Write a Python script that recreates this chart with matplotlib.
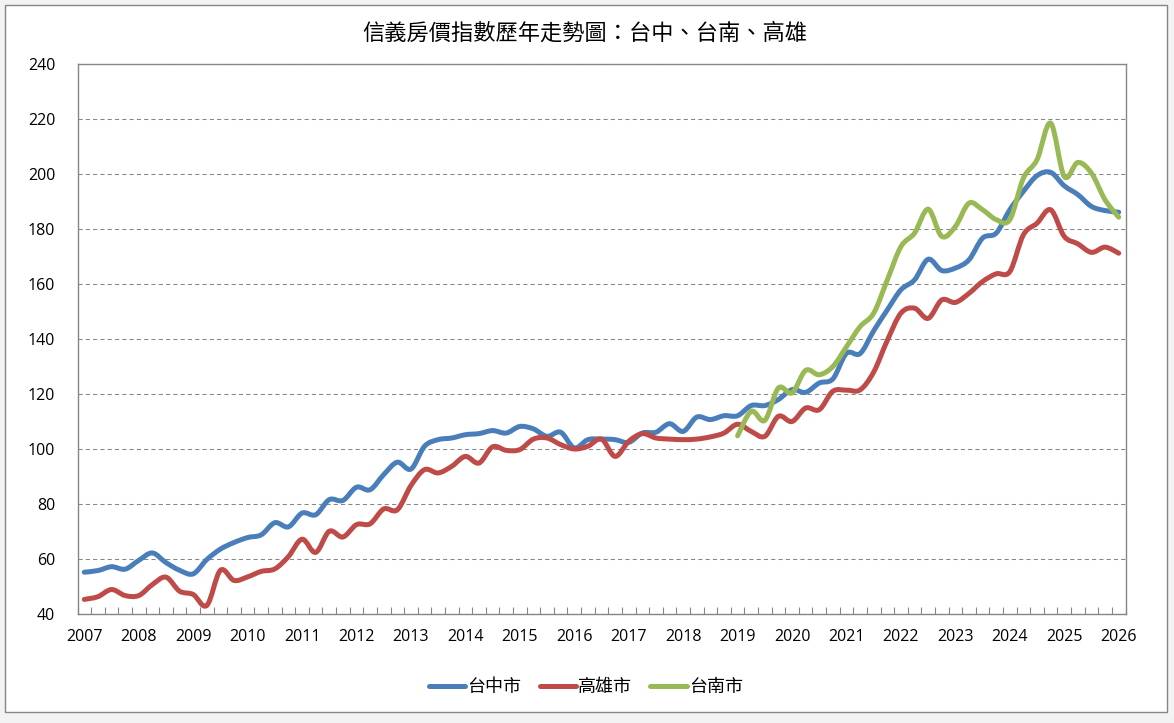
import numpy as np
import matplotlib
matplotlib.use("Agg")
import matplotlib.pyplot as plt
from matplotlib.path import Path
from matplotlib.patches import PathPatch, Rectangle
from matplotlib.lines import Line2D

plt.rcParams['font.family'] = ['Open Sans', 'Noto Sans CJK TC', 'DejaVu Sans']

# quarterly index, 2007Q1 .. 2026Q1
year_labels = ['2007', '2008', '2009', '2010', '2011', '2012', '2013', '2014', '2015', '2016',
               '2017', '2018', '2019', '2020', '2021', '2022', '2023', '2024', '2025', '2026']

taichung = [55.2, 55.8, 57.2, 56.3, 59.5, 62.2, 58.7, 55.9, 54.6, 59.8,
            63.6, 66.0, 67.8, 68.8, 73.2, 71.7, 76.7, 76.1, 81.6, 81.3,
            86.1, 85.2, 90.7, 95.2, 92.7, 101.0, 103.4, 104.0, 105.2, 105.6,
            106.7, 105.8, 108.2, 107.3, 104.6, 106.1, 100.4, 103.4, 103.6, 103.4,
            102.4, 105.8, 106.1, 109.2, 106.4, 111.6, 110.7, 112.1, 112.1, 115.8,
            115.8, 118.0, 121.6, 120.6, 124.0, 125.5, 134.8, 134.7, 143.0, 150.6,
            157.9, 161.5, 169.0, 164.9, 165.8, 168.8, 176.7, 178.5, 187.0, 193.7,
            199.4, 200.6, 195.7, 192.5, 188.2, 186.7, 186.1]

kaohsiung = [45.3, 46.3, 48.9, 46.7, 46.7, 50.7, 53.4, 48.3, 47.1, 43.1,
             55.9, 52.2, 53.5, 55.5, 56.4, 60.9, 67.2, 62.4, 70.1, 68.0,
             72.5, 72.8, 78.2, 77.9, 86.7, 92.5, 91.3, 93.7, 97.3, 94.9,
             100.8, 99.5, 99.8, 103.6, 104.0, 101.6, 100.0, 101.0, 103.6, 97.3,
             102.8, 105.6, 104.0, 103.6, 103.4, 103.6, 104.4, 105.8, 109.0, 106.4,
             104.6, 111.9, 110.0, 114.9, 114.3, 121.0, 121.4, 121.5, 128.0, 139.5,
             149.4, 151.2, 147.5, 154.2, 153.3, 156.6, 160.9, 163.7, 164.5, 177.9,
             182.1, 187.0, 177.3, 174.6, 171.5, 173.4, 171.2]

# 台南 starts 2019Q1
tainan_start = 48
tainan = [104.8, 113.7, 110.4, 122.2, 120.4, 128.6, 127.0, 130.0, 137.2, 144.5,
          149.4, 161.5, 173.6, 178.5, 187.2, 177.3, 180.9, 189.4, 187.0, 183.4,
          183.4, 198.5, 205.2, 218.5, 199.1, 204.2, 200.3, 190.6, 184.3]

series = [('台中市', taichung, 0, '#4A7EBB'),
          ('高雄市', kaohsiung, 0, '#BE4B48'),
          ('台南市', tainan, tainan_start, '#98B954')]


def smooth_path(x, y):
    # excel style smoothed line: cubic bezier through every point
    pts = np.column_stack([x, y])
    n = len(pts)
    verts = [pts[0]]
    codes = [Path.MOVETO]
    for i in range(n - 1):
        p0 = pts[max(i - 1, 0)]
        p1 = pts[i]
        p2 = pts[i + 1]
        p3 = pts[min(i + 2, n - 1)]
        c1 = p1 + (p2 - p0) / 6.0
        c2 = p2 - (p3 - p1) / 6.0
        verts += [c1, c2, p2]
        codes += [Path.CURVE4] * 3
    return Path(verts, codes)


fig = plt.figure(figsize=(11.74, 7.23), dpi=100)
fig.patch.set_facecolor('#f3f3f3')
fig.patches.append(Rectangle((5 / 1174, 11 / 723), 1162 / 1174, 707 / 723,
                             transform=fig.transFigure, facecolor='white',
                             edgecolor='#868686', linewidth=1.0, zorder=-5))

ax = fig.add_axes([77.5 / 1174, 109 / 723, 1048 / 1174, 550 / 723])
ax.set_facecolor('white')

handles = []
for name, vals, start, color in series:
    xs = np.arange(start, start + len(vals))
    patch = PathPatch(smooth_path(xs, vals), facecolor='none', edgecolor=color,
                      linewidth=3.6, capstyle='round', joinstyle='round', zorder=3)
    ax.add_patch(patch)
    handles.append(Line2D([], [], color=color, linewidth=3.6, solid_capstyle='round', label=name))

n = len(taichung)
ax.set_xlim(-0.5, n - 0.5)
ax.set_ylim(40, 240)

ax.set_xticks(np.arange(0, n, 4))
ax.set_xticklabels(year_labels)
ax.set_xticks(np.arange(-0.5, n, 1), minor=True)
ax.tick_params(axis='x', which='major', length=0, pad=11, labelsize=11.5, colors='black')
ax.tick_params(axis='x', which='minor', direction='in', length=5, width=0.8, color='#868686')

ax.set_yticks(np.arange(40, 241, 20))
ax.tick_params(axis='y', which='major', length=0, pad=16, labelsize=11.5, colors='black')
ax.yaxis.grid(True, color='#868686', linestyle=(0, (4, 3)), linewidth=0.75)
ax.set_axisbelow(True)

for s in ax.spines.values():
    s.set_color('#868686')
    s.set_linewidth(1.0)

fig.text(585 / 1174, 1 - 33 / 723, '信義房價指數歷年走勢圖：台中、台南、高雄',
         ha='center', va='center', fontsize=16,
         family=['Noto Sans CJK TC', 'DejaVu Sans'])

fig.legend(handles=handles, loc='center', bbox_to_anchor=(586 / 1174, 1 - 687 / 723),
           ncol=3, frameon=False, handlelength=2.0, handletextpad=0.15, columnspacing=1.0,
           prop={'family': ['Noto Sans CJK TC', 'DejaVu Sans'], 'size': 13})

fig.savefig('out.png', dpi=100, facecolor=fig.get_facecolor())
